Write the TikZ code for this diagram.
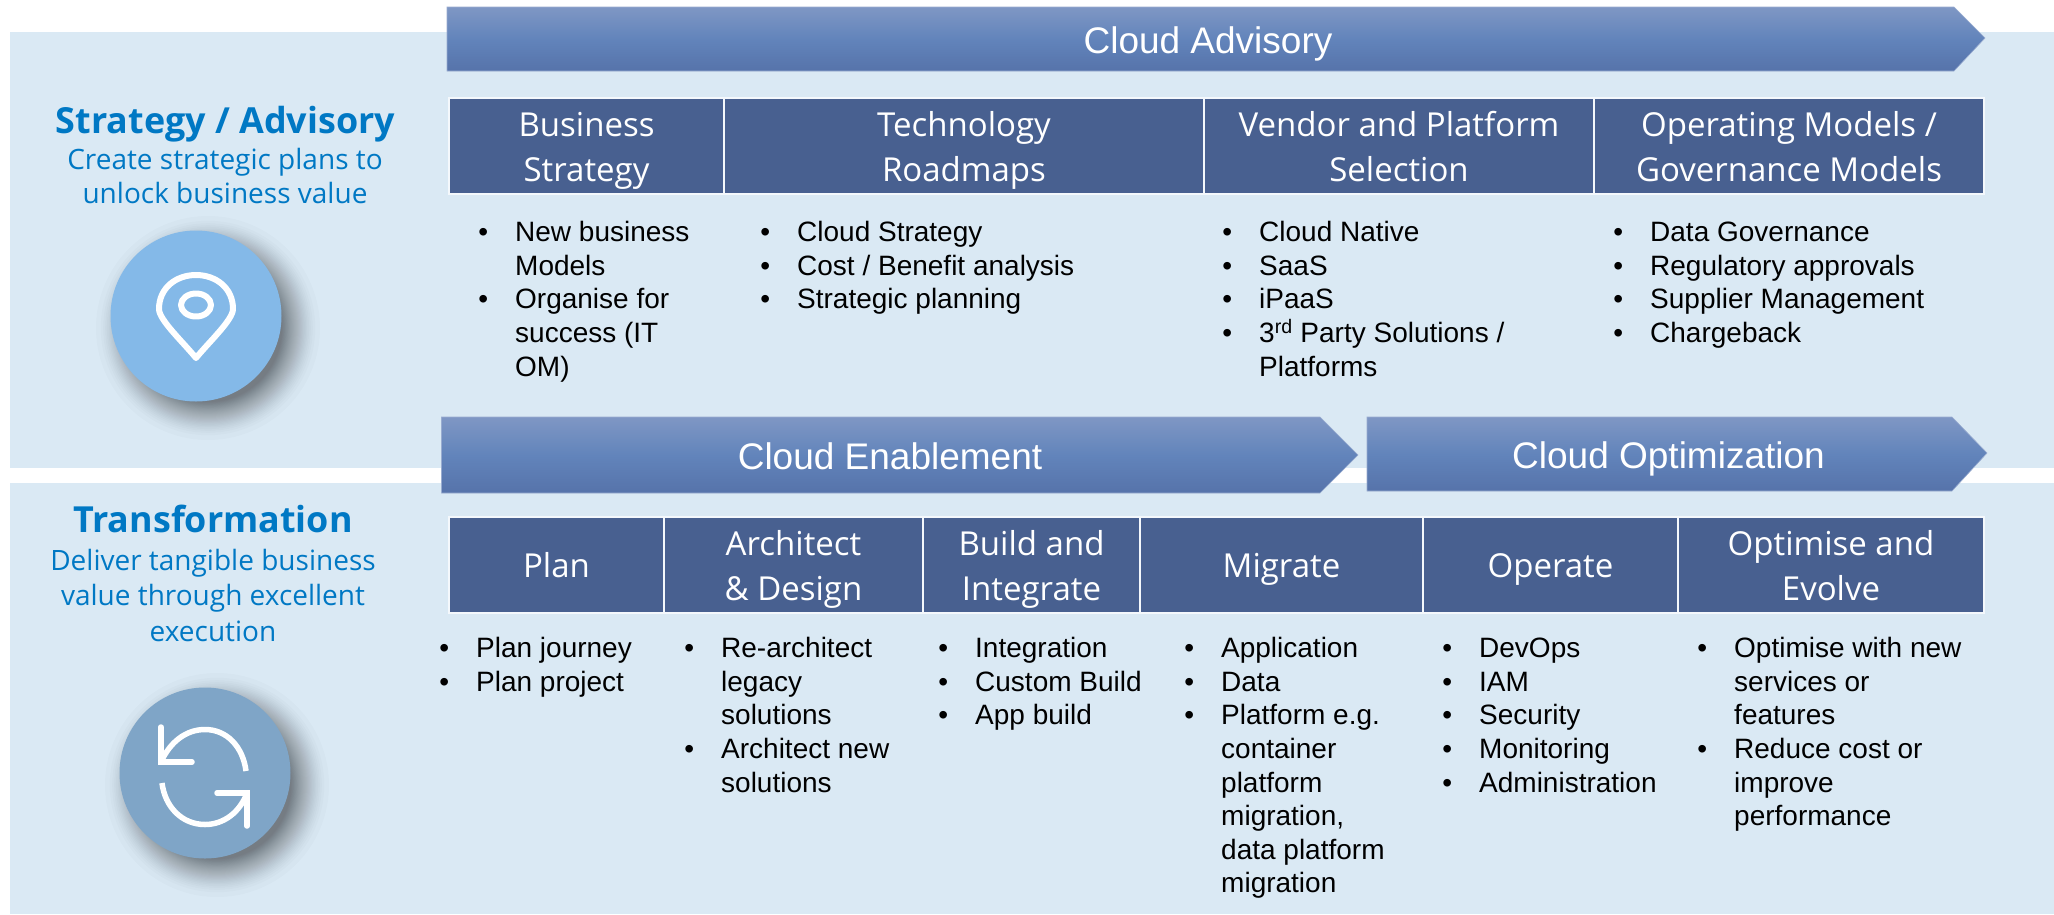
\documentclass[tikz,border=0pt]{standalone}
\usepackage{fontspec}
\setmainfont{Liberation Sans}
\newfontfamily\uifont{Open Sans}
\definecolor{panel}{HTML}{DAE9F4}
\definecolor{hdrblue}{HTML}{486090}
\definecolor{arrtop}{HTML}{7F97C4}
\definecolor{arrmid}{HTML}{6284BB}
\definecolor{arrbot}{HTML}{5673AA}
\definecolor{titleblue}{HTML}{0078C4}
\definecolor{pincirc}{HTML}{84B9E8}
\definecolor{synccirc}{HTML}{7FA5C7}
\newcommand{\bulletlist}[1]{\fontsize{28}{33.6}\selectfont\renewcommand{\arraystretch}{1}\begin{tabular}{@{}p{32pt}@{}l@{}}#1\end{tabular}}
\newcommand{\itm}{\makebox[0pt][c]{\textbullet}}
\newcommand{\hs}{\rule[-10pt]{0pt}{45pt}}
\tikzset{
  panelbox/.style={fill=panel,draw=none},
  banner/.style={top color=arrtop,bottom color=arrbot,middle color=arrmid,draw=arrtop!80!white,line width=0.6pt},
  bannertext/.style={text=white,font=\fontsize{37}{44}\selectfont,anchor=base,inner sep=0pt},
  hdr/.style={fill=hdrblue,draw=white!70!panel,line width=1.3pt,text=white,align=center,inner sep=0pt,outer sep=0pt,
     font=\uifont\fontsize{33}{45}\selectfont,anchor=north west},
  listnode/.style={anchor=north west,inner sep=0pt,text=black},
  lefttitle/.style={text=titleblue,font=\uifont\bfseries\fontsize{35.9}{40}\selectfont,anchor=base,inner sep=0pt},
  leftsub/.style={text=titleblue,font=\uifont\fontsize{28}{34}\selectfont,anchor=base,inner sep=0pt},
  iconline/.style={draw=white,line width=6pt,line join=round,fill=none},
  syncline/.style={draw=white,line width=5.5pt,line join=miter,line cap=round,fill=none},
}
\begin{document}
\begin{tikzpicture}[x=1pt,y=-1pt]
\useasboundingbox (0,0) rectangle (2054,914);
\fill[white] (0,0) rectangle (2054,914);
\path[panelbox] (10,32) rectangle (2054,468);
\path[panelbox] (10,483) rectangle (2054,914);
% circles with soft shadow
\foreach \i in {0,...,32}{
  \pgfmathsetmacro{\r}{112-38*(\i/32)^0.6}
  \fill[black,opacity=0.015] (208,328) circle[radius=\r];
  \fill[black,opacity=0.015] (217,785) circle[radius=\r];
}
\node[circle,fill=pincirc,minimum size=171pt,inner sep=0pt] (pincircle) at (196,316) {};
\node[circle,fill=synccirc,minimum size=171pt,inner sep=0pt] (synccircle) at (205,773) {};
% pin icon
\draw[iconline] (196,358) .. controls (184,343) and (159,320) .. (159,309)
  .. controls (159,288) and (176,275) .. (196,275)
  .. controls (216,275) and (233,288) .. (233,309)
  .. controls (233,320) and (208,343) .. (196,358) -- cycle;
\draw[iconline] (196,305) ellipse[x radius=15,y radius=11.5];
% sync icon
\draw[syncline] (161,727) -- (161,762) -- (192,762);
\draw[syncline,line cap=butt] (246,771) .. controls (243,747) and (227,729.5) .. (205,729.5) .. controls (186,729.5) and (170,742) .. (161,762);
\draw[syncline] (217,793) -- (247,793) -- (247,826);
\draw[syncline,line cap=butt] (162,783) .. controls (165,807) and (182,824.5) .. (205,824.5) .. controls (224,824.5) and (240,812) .. (247,793);
% banners
\shade[banner] (447,7) -- (1954,7) -- (1985,38) -- (1954,71) -- (447,71) -- cycle;
\shade[banner] (441.5,417) -- (1320,417) -- (1358,455) -- (1320,493) -- (441.5,493) -- cycle;
\shade[banner] (1367,417) -- (1952,417) -- (1987,453) -- (1952,491) -- (1367,491) -- cycle;
\node[bannertext] (advisory) at (1208,53) {Cloud Advisory};
\node[bannertext] (enable) at (890,469) {Cloud Enablement};
\node[bannertext] (optim) at (1668.5,468) {Cloud Optimization};
% left titles
\node[lefttitle] (t1) at (225.5,133) {Strategy / Advisory};
\node[leftsub] (s1a) at (225,169) {Create strategic plans to};
\node[leftsub] (s1b) at (225,203) {unlock business value};
\node[lefttitle] (t2) at (213,532) {Transformation};
\node[leftsub] (s2a) at (213,570) {Deliver tangible business};
\node[leftsub] (s2b) at (213,605) {value through excellent};
\node[leftsub] (s2c) at (213,641) {execution};
% header row 1
\node[hdr,minimum width=275pt,minimum height=96pt] (h1) at (449,98) {\hs Business\\\hs Strategy};
\node[hdr,minimum width=480pt,minimum height=96pt] (h2) at (724,98) {\hs Technology\\\hs Roadmaps};
\node[hdr,minimum width=390pt,minimum height=96pt] (h3) at (1204,98) {\hs Vendor and Platform\\\hs Selection};
\node[hdr,minimum width=390pt,minimum height=96pt] (h4) at (1594,98) {\hs Operating Models /\\\hs Governance Models};
% header row 2
\node[hdr,minimum width=215pt,minimum height=96pt] (p1) at (449,517) {\hs Plan};
\node[hdr,minimum width=259pt,minimum height=96pt] (p2) at (664,517) {\hs Architect\\\hs\& Design};
\node[hdr,minimum width=217pt,minimum height=96pt] (p3) at (923,517) {\hs Build and\\\hs Integrate};
\node[hdr,minimum width=283pt,minimum height=96pt] (p4) at (1140,517) {\hs Migrate};
\node[hdr,minimum width=255pt,minimum height=96pt] (p5) at (1423,517) {\hs Operate};
\node[hdr,minimum width=306pt,minimum height=96pt] (p6) at (1678,517) {\hs Optimise and\\\hs Evolve};
% lists row 1
\node[listnode] (l1) at (483,218) {\bulletlist{\itm&New business\\&Models\\\itm&Organise for\\&success (IT\\&OM)}};
\node[listnode] (l2) at (765,218) {\bulletlist{\itm&Cloud Strategy\\\itm&Cost / Benefit analysis\\\itm&Strategic planning}};
\node[listnode] (l3) at (1227,218) {\bulletlist{\itm&Cloud Native\\\itm&SaaS\\\itm&iPaaS\\\itm&3\textsuperscript{rd} Party Solutions /\\&Platforms}};
\node[listnode] (l4) at (1618,218) {\bulletlist{\itm&Data Governance\\\itm&Regulatory approvals\\\itm&Supplier Management\\\itm&Chargeback}};
% lists row 2
\node[listnode] (m1) at (444,634) {\bulletlist{\itm&Plan journey\\\itm&Plan project}};
\node[listnode] (m2) at (689,634) {\bulletlist{\itm&Re-architect\\&legacy\\&solutions\\\itm&Architect new\\&solutions}};
\node[listnode] (m3) at (943,634) {\bulletlist{\itm&Integration\\\itm&Custom Build\\\itm&App build}};
\node[listnode] (m4) at (1189,634) {\bulletlist{\itm&Application\\\itm&Data\\\itm&Platform e.g.\\&container\\&platform\\&migration,\\&data platform\\&migration}};
\node[listnode] (m5) at (1447,634) {\bulletlist{\itm&DevOps\\\itm&IAM\\\itm&Security\\\itm&Monitoring\\\itm&Administration}};
\node[listnode] (m6) at (1702,634) {\bulletlist{\itm&Optimise with new\\&services or\\&features\\\itm&Reduce cost or\\&improve\\&performance}};
\end{tikzpicture}
\end{document}
